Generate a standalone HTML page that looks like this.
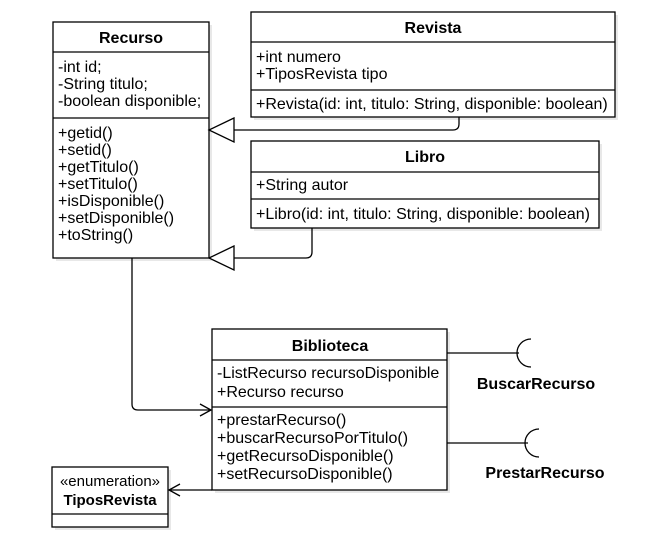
<!DOCTYPE html>
<html><head><style>
body{margin:0;background:#fff;}
svg text{font-family:"Liberation Sans",sans-serif;font-size:16px;fill:#000;}
.b{font-weight:bold;}
</style></head><body>
<svg width="658" height="542" xmlns="http://www.w3.org/2000/svg">
<g fill="#e8e8e8" stroke="none">
<rect x="56" y="25" width="156" height="236"/>
<rect x="254" y="15" width="364" height="105"/>
<rect x="254" y="144" width="348" height="87"/>
<rect x="215" y="332" width="235" height="161"/>
<rect x="55" y="470" width="116" height="60"/>
</g>
<g fill="#fff" stroke="#000" stroke-width="1.3">
<rect x="53" y="22" width="156" height="236"/>
<line x1="53" y1="52" x2="209" y2="52"/><line x1="53" y1="118" x2="209" y2="118"/>
<rect x="251" y="12" width="364" height="105"/>
<line x1="251" y1="42" x2="615" y2="42"/><line x1="251" y1="90" x2="615" y2="90"/>
<rect x="251" y="141" width="348" height="87"/>
<line x1="251" y1="172" x2="599" y2="172"/><line x1="251" y1="199" x2="599" y2="199"/>
<rect x="212" y="329" width="235" height="161"/>
<line x1="212" y1="360" x2="447" y2="360"/><line x1="212" y1="407" x2="447" y2="407"/>
<rect x="52" y="467" width="116" height="60"/>
<line x1="52" y1="514" x2="168" y2="514"/>
</g>
<g fill="none" stroke="#000" stroke-width="1.3">
<path d="M459 117 V124 Q459 130 453 130 H234"/>
<path d="M234 118 L209 130 L234 142 Z" fill="#fff"/>
<path d="M312 228 V252 Q312 258 306 258 H234"/>
<path d="M234 246 L209 258 L234 270 Z" fill="#fff"/>
<path d="M132 258 V404 Q132 410 138 410 H211"/>
<path d="M200 404 L211 410 L200 416"/>
<path d="M212 490 H169"/>
<path d="M180 484 L169 490 L180 496"/>
<path d="M447 353 H519"/>
<path d="M531 339 A14 14 0 0 0 531 367"/>
<path d="M447 443 H528"/>
<path d="M539 429 A14 14 0 0 0 539 457"/>
</g>
<text x="131" y="43" text-anchor="middle" class="b">Recurso</text>
<text x="58" y="72">-int id;</text>
<text x="58" y="89">-String titulo;</text>
<text x="58" y="106">-boolean disponible;</text>
<text x="58" y="138">+getid()</text>
<text x="58" y="155">+setid()</text>
<text x="58" y="172">+getTitulo()</text>
<text x="58" y="189">+setTitulo()</text>
<text x="58" y="206">+isDisponible()</text>
<text x="58" y="223">+setDisponible()</text>
<text x="58" y="240">+toString()</text>
<text x="433" y="33" text-anchor="middle" class="b">Revista</text>
<text x="256" y="62">+int numero</text>
<text x="256" y="79">+TiposRevista tipo</text>
<text x="256" y="109">+Revista(id: int, titulo: String, disponible: boolean)</text>
<text x="425" y="162" text-anchor="middle" class="b">Libro</text>
<text x="256" y="190">+String autor</text>
<text x="256" y="219">+Libro(id: int, titulo: String, disponible: boolean)</text>
<text x="330" y="351" text-anchor="middle" class="b">Biblioteca</text>
<text x="217" y="378">-ListRecurso recursoDisponible</text>
<text x="217" y="397">+Recurso recurso</text>
<text x="217" y="425">+prestarRecurso()</text>
<text x="217" y="443">+buscarRecursoPorTitulo()</text>
<text x="217" y="461">+getRecursoDisponible()</text>
<text x="217" y="479">+setRecursoDisponible()</text>
<text x="110" y="486" text-anchor="middle" style="font-size:15px">«enumeration»</text>
<text x="110" y="505" text-anchor="middle" class="b" style="font-size:15px">TiposRevista</text>
<text x="536" y="389" text-anchor="middle" class="b">BuscarRecurso</text>
<text x="545" y="478" text-anchor="middle" class="b">PrestarRecurso</text>
</svg>
</body></html>
